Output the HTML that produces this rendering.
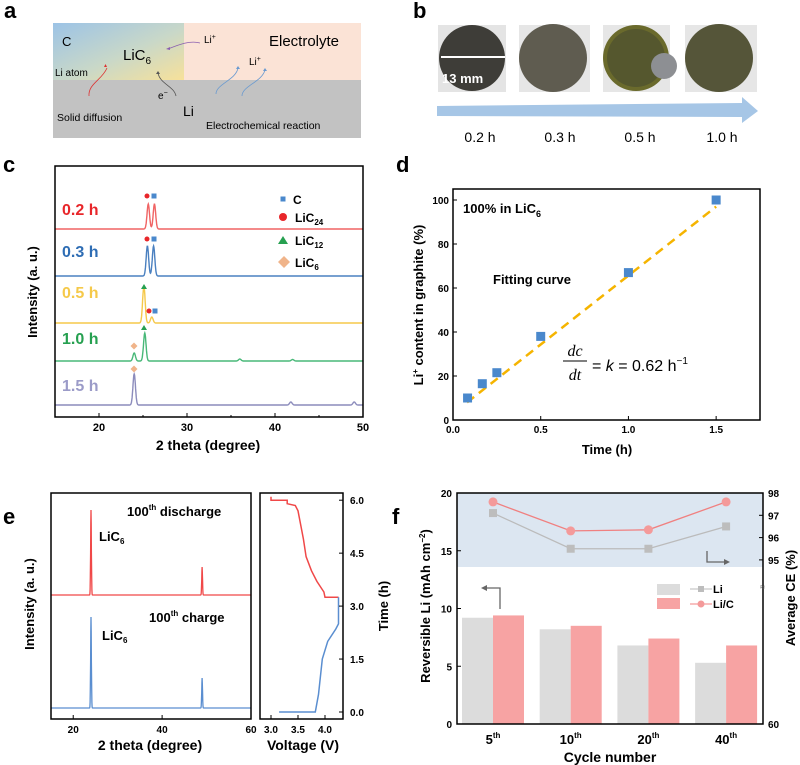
<!DOCTYPE html>
<html><head><meta charset="utf-8">
<style>
html,body{margin:0;padding:0;background:#fff;}
svg{display:block;font-family:"Liberation Sans",Arial,sans-serif;}
.b{font-weight:bold;}
</style></head>
<body>
<svg id="fig" width="800" height="765" viewBox="0 0 800 765" xmlns="http://www.w3.org/2000/svg">
<defs>
<linearGradient id="gC" x1="0" y1="0" x2="1" y2="1">
<stop offset="0" stop-color="#9cc3e6"/><stop offset="0.55" stop-color="#c9d8c8"/><stop offset="1" stop-color="#f7e19a"/>
</linearGradient>
</defs>
<g class="b" font-size="22">
<text x="4" y="18">a</text>
<text x="413" y="18">b</text>
<text x="3" y="172">c</text>
<text x="396" y="172">d</text>
<text x="3" y="524">e</text>
<text x="392" y="524">f</text>
</g>

<g>
<rect x="53" y="23" width="131" height="57" fill="url(#gC)"/>
<rect x="184" y="23" width="177" height="57" fill="#fbe3d6"/>
<rect x="53" y="80" width="308" height="58" fill="#c2c2c2"/>
<text x="62" y="46" font-size="13">C</text>
<text x="123" y="60" font-size="15">LiC<tspan font-size="10" dy="4">6</tspan></text>
<text x="55" y="76" font-size="10">Li atom</text>
<text x="269" y="46" font-size="15">Electrolyte</text>
<text x="204" y="43" font-size="10">Li<tspan font-size="7" dy="-4">+</tspan></text>
<text x="249" y="65" font-size="10">Li<tspan font-size="7" dy="-4">+</tspan></text>
<text x="158" y="99" font-size="10">e<tspan font-size="7" dy="-4">−</tspan></text>
<text x="183" y="116" font-size="14">Li</text>
<text x="57" y="121" font-size="10.5">Solid diffusion</text>
<text x="206" y="129" font-size="10.5">Electrochemical reaction</text>
<path d="M89 96 C88 84 102 80 107 68" stroke="#d33" fill="none" stroke-width="0.8"/>
<path d="M104 67 l3 0 l-1.5 -3z" fill="#d33"/>
<path d="M176 96 C174 86 160 84 158 73" stroke="#555" fill="none" stroke-width="0.8"/>
<path d="M156 74 l4 0 l-2 -3z" fill="#555"/>
<path d="M200 43 C190 40 178 45 168 49" stroke="#8a5fb0" fill="none" stroke-width="0.8"/>
<path d="M166 49 l4 -2 l0 3z" fill="#8a5fb0"/>
<path d="M216 94 C216 84 236 80 238 68" stroke="#6a9ad0" fill="none" stroke-width="0.8"/>
<path d="M236 69 l4 0 l-2 -3z" fill="#6a9ad0"/>
<path d="M242 96 C242 86 262 82 265 70" stroke="#6a9ad0" fill="none" stroke-width="0.8"/>
<path d="M263 71 l4 0 l-2 -3z" fill="#6a9ad0"/>
</g>

<g>
<rect x="438" y="25" width="68" height="67" fill="#e4e4e4"/>
<circle cx="472" cy="58" r="33" fill="#3e3d38"/>
<line x1="441" y1="57" x2="505" y2="57" stroke="#fff" stroke-width="2"/>
<text x="442" y="83" font-size="13" class="b" fill="#fff">13 mm</text>
<rect x="519" y="25" width="71" height="67" fill="#e6e6e6"/>
<circle cx="553" cy="58" r="34" fill="#5f5c50"/>
<rect x="603" y="25" width="67" height="67" fill="#e6e6e6"/>
<circle cx="636" cy="58" r="33" fill="#6a6a2c"/>
<circle cx="636" cy="58" r="29" fill="#55572e"/>
<circle cx="664" cy="66" r="13" fill="#8d8f93"/>
<rect x="685" y="25" width="72" height="67" fill="#e6e6e6"/>
<circle cx="719" cy="58" r="34" fill="#555539"/>
<path d="M437 106 L742 103 L742 97 L758 111 L742 123 L742 117 L437 116 Z" fill="#a6c6e6"/>
<g font-size="14">
<text x="480" y="142" text-anchor="middle">0.2 h</text>
<text x="560" y="142" text-anchor="middle">0.3 h</text>
<text x="640" y="142" text-anchor="middle">0.5 h</text>
<text x="722" y="142" text-anchor="middle">1.0 h</text>
</g>
</g>

<g id="pc"></g>
<g id="pd"></g>
<g id="pe"></g>
<g id="pf"></g>
</svg>
<script>
const NS="http://www.w3.org/2000/svg";
function mk(p,tag,attrs,txt){const e=document.createElementNS(NS,tag);for(const k in attrs)e.setAttribute(k,attrs[k]);if(txt!==undefined)e.textContent=txt;p.appendChild(e);return e;}

/* ---------- panel c data ---------- */
const cLabels=["0.2 h","0.3 h","0.5 h","1.0 h","1.5 h"];
const cColors=["#f06464","#4a80c0","#f5c84a","#48b878","#8c8cbc"];
const cLabelColors=["#e8262a","#2e6db4","#f5c94a","#26a050","#9b9bc8"];
const cPeakPos=[[25.6,26.3],[25.5,26.2],[25.1,26.0],[24.0,25.2,36.0,42.0],[24.0,41.8,49.0]];
const cPeakH=[[25,25],[30,30],[37,6],[8,28,2,1.5],[31,3,3]];
const cTicks=[20,30,40,50];
{
const g=document.getElementById('pc');
const X0=55,X1=363,Y0=166,Y1=417,xmin=15,xmax=50;
const xs=v=>X0+(v-xmin)/(xmax-xmin)*(X1-X0);
const base=[229,276,323,361,405];
const lab=[215,257,298,344,391];
cLabels.forEach((L,i)=>{
 let d="";
 for(let t=xmin;t<=xmax;t+=0.04){
  let h=0;cPeakPos[i].forEach((p,j)=>{h+=cPeakH[i][j]*Math.exp(-Math.pow((t-p)/0.2,2));});
  d+=(d?"L":"M")+xs(t).toFixed(1)+" "+(base[i]-h).toFixed(1);
 }
 const pth=mk(g,'path',{d:d,fill:'none',stroke:cColors[i],'stroke-width':1.4});
 
 
 const t=mk(g,'text',{x:62,y:lab[i],'font-size':16,'font-weight':'bold',fill:cLabelColors[i]},L);
 
 
});
const sq=(x,y,c)=>mk(g,'rect',{x:x-2.5,y:y-2.5,width:5,height:5,fill:c});
const ci=(x,y)=>mk(g,'circle',{cx:x,cy:y,r:2.5,fill:'#e8262a'});
const tr=(x,y)=>mk(g,'path',{d:`M${x} ${y-3} L${x+3} ${y+2} L${x-3} ${y+2}Z`,fill:'#26a050'});
const di=(x,y)=>mk(g,'path',{d:`M${x} ${y-3.5} L${x+3.5} ${y} L${x} ${y+3.5} L${x-3.5} ${y}Z`,fill:'#f0b48a'});
ci(147,196);sq(154,196,'#4a88cc');ci(147,239);sq(154,239,'#4a88cc');
tr(144,287);ci(149,311);sq(155,311,'#4a88cc');tr(144,328);di(134,346);di(134,369);
sq(283,199,'#4a88cc');mk(g,'circle',{cx:283,cy:217,r:4,fill:'#e8262a'});
mk(g,'path',{d:'M283 236 L288 244 L278 244Z',fill:'#26a050'});
mk(g,'path',{d:'M284 256 L290 262 L284 268 L278 262Z',fill:'#f0b48a'});
mk(g,'text',{x:293,y:204,'font-size':12,'font-weight':'bold'},'C');
const lt=[['LiC','24',222],['LiC','12',245],['LiC','6',267]];
lt.forEach(a=>{const t=mk(g,'text',{x:295,y:a[2],'font-size':12,'font-weight':'bold'},a[0]);mk(t,'tspan',{'font-size':8,dy:3},a[1]);});
mk(g,'rect',{x:X0,y:Y0,width:X1-X0,height:Y1-Y0,fill:'none',stroke:'#000','stroke-width':1.5});
cTicks.forEach(v=>{mk(g,'line',{x1:xs(v),x2:xs(v),y1:Y1,y2:Y1-4,stroke:'#000'});mk(g,'text',{x:xs(v),y:431,'font-size':11,'font-weight':'bold','text-anchor':'middle'},v);});
[25,35,45].forEach(v=>mk(g,'line',{x1:xs(v),x2:xs(v),y1:Y1,y2:Y1-2,stroke:'#000'}));
mk(g,'text',{x:208,y:450,'font-size':14,'font-weight':'bold','text-anchor':'middle'},'2 theta (degree)');
mk(g,'text',{x:0,y:0,'font-size':13,'font-weight':'bold','text-anchor':'middle',transform:'translate(37 292) rotate(-90)'},'Intensity (a. u.)');
}

/* ---------- panel d data ---------- */
const dTime=[0.083,0.167,0.25,0.5,1.0,1.5];
const dContent=[10,16.5,21.5,38,67,100];
const dFitT=[0.08,1.5];
const dFitC=[8,97];
const dXTicks=[0.0,0.5,1.0,1.5];
const dYTicks=[0,20,40,60,80,100];
{
const g=document.getElementById('pd');
const X0=453,X1=760,Y0=189,Y1=420;
const xs=v=>X0+v/1.75*(X1-X0), ys=v=>420-v*2.2;
mk(g,'line',{x1:xs(dFitT[0]),y1:ys(dFitC[0]),x2:xs(dFitT[1]),y2:ys(dFitC[1]),stroke:'#f5b400','stroke-width':2.5,'stroke-dasharray':'9 6'});
dTime.forEach((t,i)=>{const r=mk(g,'rect',{x:xs(t)-4.5,y:ys(dContent[i])-4.5,width:9,height:9,fill:'#4a88cc'});
 
 });
mk(g,'rect',{x:X0,y:Y0,width:X1-X0,height:Y1-Y0,fill:'none',stroke:'#000','stroke-width':1.5});
dXTicks.forEach(v=>{mk(g,'line',{x1:xs(v),x2:xs(v),y1:Y1,y2:Y1-4,stroke:'#000'});mk(g,'text',{x:xs(v),y:433,'font-size':10,'font-weight':'bold','text-anchor':'middle'},v.toFixed(1));});
dYTicks.forEach(v=>{mk(g,'line',{x1:X0,x2:X0+4,y1:ys(v),y2:ys(v),stroke:'#000'});mk(g,'text',{x:449,y:ys(v)+4,'font-size':10,'font-weight':'bold','text-anchor':'end'},v);});
const t1=mk(g,'text',{x:463,y:213,'font-size':13,'font-weight':'bold'},'100% in LiC');mk(t1,'tspan',{'font-size':9,dy:4},'6');
mk(g,'text',{x:493,y:284,'font-size':13,'font-weight':'bold'},'Fitting curve');
mk(g,'text',{x:575,y:356,'font-size':16,'font-style':'italic','text-anchor':'middle','font-family':'Liberation Serif'},'dc');
mk(g,'line',{x1:563,x2:587,y1:361,y2:361,stroke:'#000'});
mk(g,'text',{x:575,y:380,'font-size':16,'font-style':'italic','text-anchor':'middle','font-family':'Liberation Serif'},'dt');
const t2=mk(g,'text',{x:592,y:371,'font-size':16},'= ');mk(t2,'tspan',{'font-style':'italic'},'k');mk(t2,'tspan',{},' = 0.62 h');mk(t2,'tspan',{'font-size':10,dy:-7},'−1');
mk(g,'text',{x:607,y:454,'font-size':13,'font-weight':'bold','text-anchor':'middle'},'Time (h)');
const t3=mk(g,'text',{x:0,y:0,'font-size':13,'font-weight':'bold','text-anchor':'middle',transform:'translate(423 305) rotate(-90)'},'Li');mk(t3,'tspan',{'font-size':8,dy:-5},'+');mk(t3,'tspan',{dy:5},' content in graphite (%)');
}

/* ---------- panel e data ---------- */
const ePeakPos=[24,49];
const eDisH=[85,28];
const eChgH=[91,30];
const eXTicks=[20,40,60];
const eVoltDis=[4.25,4.0,3.98,3.85,3.75,3.65,3.6,3.55,3.5,3.45,3.3,3.3,3.0,3.0];
const eTimeDis=[3.25,3.25,3.4,3.7,4.0,4.4,4.9,5.3,5.7,5.85,5.9,6.0,6.0,6.1];
const eVoltChg=[3.15,3.82,3.88,3.95,4.05,4.2,4.25,4.25];
const eTimeChg=[0.0,0.0,0.5,1.5,2.0,2.35,2.5,3.25];
const eTTicks=[0.0,1.5,3.0,4.5,6.0];
const eVTicks=[3.0,3.5,4.0];
{
const g=document.getElementById('pe');
const X0=51,X1=251,Y0=493,Y1=719;
const xs=v=>X0+(v-15)/45*(X1-X0);
const tr=(bl,hs,col,nm)=>{let d="";for(let t=15;t<=60;t+=0.05){let h=0;ePeakPos.forEach((p,j)=>h+=hs[j]*Math.exp(-Math.pow((t-p)/0.12,2)));d+=(d?"L":"M")+xs(t).toFixed(1)+" "+(bl-h).toFixed(1);}
 const p=mk(g,'path',{d:d,fill:'none',stroke:col,'stroke-width':1.3});
 
 };
tr(595,eDisH,'#f04848','discharge-trace');tr(708,eChgH,'#5a8ed0','charge-trace');
mk(g,'rect',{x:X0,y:Y0,width:X1-X0,height:Y1-Y0,fill:'none',stroke:'#000','stroke-width':1.5});
eXTicks.forEach(v=>{mk(g,'line',{x1:xs(v),x2:xs(v),y1:Y1,y2:Y1-4,stroke:'#000'});mk(g,'text',{x:xs(v),y:733,'font-size':10,'font-weight':'bold','text-anchor':'middle'},v);});
const a=mk(g,'text',{x:127,y:516,'font-size':13,'font-weight':'bold'},'100');mk(a,'tspan',{'font-size':8,dy:-6},'th');mk(a,'tspan',{dy:6},' discharge');
const b=mk(g,'text',{x:149,y:622,'font-size':13,'font-weight':'bold'},'100');mk(b,'tspan',{'font-size':8,dy:-6},'th');mk(b,'tspan',{dy:6},' charge');
const c=mk(g,'text',{x:99,y:541,'font-size':13,'font-weight':'bold'},'LiC');mk(c,'tspan',{'font-size':8,dy:3},'6');
const e=mk(g,'text',{x:102,y:640,'font-size':13,'font-weight':'bold'},'LiC');mk(e,'tspan',{'font-size':8,dy:3},'6');
mk(g,'text',{x:150,y:750,'font-size':14,'font-weight':'bold','text-anchor':'middle'},'2 theta (degree)');
mk(g,'text',{x:0,y:0,'font-size':13,'font-weight':'bold','text-anchor':'middle',transform:'translate(34 604) rotate(-90)'},'Intensity (a. u.)');
const VX0=260,VX1=343;
const vx=v=>271+(v-3.0)*54, ty=t=>712-t*35.3;
const path=(V,T)=>V.map((v,i)=>(i?'L':'M')+vx(v).toFixed(1)+' '+ty(T[i]).toFixed(1)).join('');
const pd=mk(g,'path',{d:path(eVoltDis,eTimeDis),fill:'none',stroke:'#f04848','stroke-width':1.5});


const pc=mk(g,'path',{d:path(eVoltChg,eTimeChg),fill:'none',stroke:'#5a8ed0','stroke-width':1.5});


mk(g,'rect',{x:VX0,y:Y0,width:VX1-VX0,height:Y1-Y0,fill:'none',stroke:'#000','stroke-width':1.5});
eVTicks.forEach(v=>{mk(g,'line',{x1:vx(v),x2:vx(v),y1:Y1,y2:Y1-4,stroke:'#000'});mk(g,'text',{x:vx(v),y:733,'font-size':10,'font-weight':'bold','text-anchor':'middle'},v.toFixed(1));});
eTTicks.forEach(v=>{mk(g,'line',{x1:VX1,x2:VX1-4,y1:ty(v),y2:ty(v),stroke:'#000'});mk(g,'text',{x:350,y:ty(v)+4,'font-size':10,'font-weight':'bold'},v.toFixed(1));});
mk(g,'text',{x:303,y:750,'font-size':14,'font-weight':'bold','text-anchor':'middle'},'Voltage (V)');
mk(g,'text',{x:0,y:0,'font-size':13,'font-weight':'bold','text-anchor':'middle',transform:'translate(388 606) rotate(-90)'},'Time (h)');
}

/* ---------- panel f data ---------- */
const fCats=["5","10","20","40"];
const fLiCap=[9.2,8.2,6.8,5.3];
const fLiCCap=[9.4,8.5,7.4,6.8];
const fLiCE=[97.1,95.5,95.5,96.5];
const fLiCCE=[97.6,96.3,96.35,97.6];
const fYTicks=[0,5,10,15,20];
const fCETicks=[95,96,97,98];
{
const g=document.getElementById('pf');
const X0=457,X1=763,Y0=493,Y1=724;
const ys=v=>Y1-v*11.55, ce=v=>493+(98-v)*22.3;
const cx=i=>493+i*77.7;
mk(g,'rect',{x:X0,y:Y0,width:X1-X0,height:74,fill:'#dce6f1'});
fCats.forEach((c,i)=>{
 const r1=mk(g,'rect',{x:cx(i)-31,y:ys(fLiCap[i]),width:31,height:Y1-ys(fLiCap[i]),fill:'#dcdcdc'});
 
 
 const r2=mk(g,'rect',{x:cx(i),y:ys(fLiCCap[i]),width:31,height:Y1-ys(fLiCCap[i]),fill:'#f7a3a3'});
 
 
 const t=mk(g,'text',{x:cx(i),y:744,'font-size':13,'font-weight':'bold','text-anchor':'middle'},c);
 mk(t,'tspan',{'font-size':8,dy:-6},'th');
});
mk(g,'path',{d:fLiCE.map((v,i)=>(i?'L':'M')+cx(i)+' '+ce(v)).join(''),fill:'none',stroke:'#bbbbbb','stroke-width':1.3});
mk(g,'path',{d:fLiCCE.map((v,i)=>(i?'L':'M')+cx(i)+' '+ce(v)).join(''),fill:'none',stroke:'#f08080','stroke-width':1.3});
fLiCE.forEach((v,i)=>{const r=mk(g,'rect',{x:cx(i)-4,y:ce(v)-4,width:8,height:8,fill:'#bdbdbd'});});
fLiCCE.forEach((v,i)=>{const r=mk(g,'circle',{cx:cx(i),cy:ce(v),r:4.5,fill:'#f49a9a'});});
mk(g,'rect',{x:X0,y:Y0,width:X1-X0,height:Y1-Y0,fill:'none',stroke:'#000','stroke-width':1.5});
fYTicks.forEach(v=>{mk(g,'line',{x1:X0,x2:X0+4,y1:ys(v),y2:ys(v),stroke:'#000'});mk(g,'text',{x:452,y:ys(v)+4,'font-size':10,'font-weight':'bold','text-anchor':'end'},v);});
fCETicks.forEach(v=>{mk(g,'line',{x1:X1,x2:X1-4,y1:ce(v),y2:ce(v),stroke:'#000'});mk(g,'text',{x:768,y:ce(v)+4,'font-size':10,'font-weight':'bold'},v);});
mk(g,'text',{x:768,y:728,'font-size':10,'font-weight':'bold'},'60');
mk(g,'text',{x:760,y:590,'font-size':9,fill:'#555'},'≈');
mk(g,'rect',{x:657,y:584,width:23,height:11,fill:'#dcdcdc'});
mk(g,'rect',{x:657,y:598,width:23,height:11,fill:'#f7a3a3'});
mk(g,'line',{x1:690,x2:712,y1:589,y2:589,stroke:'#bbb'});mk(g,'rect',{x:698,y:586,width:6,height:6,fill:'#bdbdbd'});
mk(g,'line',{x1:690,x2:712,y1:604,y2:604,stroke:'#f08080'});mk(g,'circle',{cx:701,cy:604,r:3.5,fill:'#f49a9a'});
mk(g,'text',{x:713,y:593,'font-size':11,'font-weight':'bold'},'Li');
mk(g,'text',{x:713,y:608,'font-size':11,'font-weight':'bold'},'Li/C');
mk(g,'path',{d:'M500 609 L500 588 L485 588',fill:'none',stroke:'#666','stroke-width':1.3});
mk(g,'path',{d:'M481 588 L487 585 L487 591Z',fill:'#666'});
mk(g,'path',{d:'M707 551 L707 562 L726 562',fill:'none',stroke:'#666','stroke-width':1.3});
mk(g,'path',{d:'M730 562 L724 559 L724 565Z',fill:'#666'});
mk(g,'text',{x:610,y:762,'font-size':14,'font-weight':'bold','text-anchor':'middle'},'Cycle number');
const t=mk(g,'text',{x:0,y:0,'font-size':13,'font-weight':'bold','text-anchor':'middle',transform:'translate(430 606) rotate(-90)'},'Reversible  Li (mAh cm');mk(t,'tspan',{'font-size':8,dy:-5},'−2');mk(t,'tspan',{dy:5},')');
mk(g,'text',{x:0,y:0,'font-size':13,'font-weight':'bold','text-anchor':'middle',transform:'translate(795 598) rotate(-90)'},'Average  CE (%)');
}
</script>
</body></html>
